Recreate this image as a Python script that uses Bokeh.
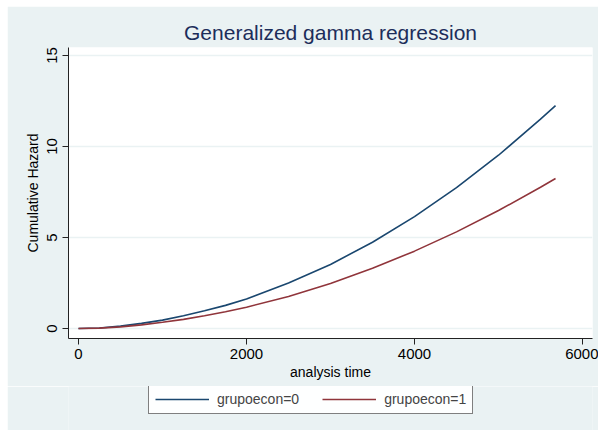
from bokeh.plotting import figure
from bokeh.models import Legend, LegendItem, FixedTicker, Range1d, Spacer
from bokeh.layouts import column, row
from bokeh.embed import file_html
from bokeh.resources import INLINE

# analysis time points and cumulative hazard
t = [0, 250, 500, 750, 1000, 1250, 1500, 1750, 2000, 2500, 3000, 3500, 4000, 4500, 5000, 5500, 5679]
haz_g0 = [0, 0.03, 0.13, 0.28, 0.46, 0.70, 0.97, 1.27, 1.62, 2.50, 3.52, 4.74, 6.15, 7.74, 9.52, 11.50, 12.25]
haz_g1 = [0, 0.02, 0.09, 0.20, 0.34, 0.50, 0.70, 0.92, 1.17, 1.76, 2.47, 3.31, 4.25, 5.31, 6.48, 7.76, 8.24]
labels = ["grupoecon=0", "grupoecon=1"]
colors = ["#1a476f", "#90353b"]
x_ticks = [0, 2000, 4000, 6000]
y_ticks = [0, 5, 10, 15]

BG = "#eaf2f3"
FONT = "Liberation Sans"

p = figure(width=591, height=380, output_backend="svg", toolbar_location=None,
           x_range=Range1d(-119, 6119), y_range=Range1d(-0.55, 15.44),
           min_border_left=61, min_border_right=6, min_border_top=41, min_border_bottom=48,
           title="Generalized gamma regression")
p.background_fill_color = "white"
p.border_fill_color = BG
p.outline_line_color = None

p.title.align = "center"
p.title.text_font = FONT
p.title.text_font_size = "21px"
p.title.text_font_style = "normal"
p.title.text_color = "#1c2d5a"
p.title.standoff = 7

p.line(t, haz_g0, line_color=colors[0], line_width=1.6)
p.line(t, haz_g1, line_color=colors[1], line_width=1.6)

p.xgrid.grid_line_color = None
p.ygrid.ticker = FixedTicker(ticks=y_ticks)
p.ygrid.grid_line_color = BG
p.ygrid.grid_line_width = 1.5

for ax in (p.xaxis[0], p.yaxis[0]):
    ax.major_label_text_font = FONT
    ax.major_label_text_font_size = "15px"
    ax.major_label_text_color = "black"
    ax.axis_label_text_font = FONT
    ax.axis_label_text_font_size = "14px"
    ax.axis_label_text_font_style = "normal"
    ax.axis_label_text_color = "black"
    ax.axis_line_color = "#222222"
    ax.major_tick_line_color = "#222222"
    ax.major_tick_out = 6
    ax.major_tick_in = 0
    ax.minor_tick_line_color = None

p.xaxis.ticker = FixedTicker(ticks=x_ticks)
p.yaxis.ticker = FixedTicker(ticks=y_ticks)
p.xaxis.axis_label = "analysis time"
p.yaxis.axis_label = "Cumulative Hazard"
p.yaxis.major_label_orientation = "vertical"
p.xaxis.axis_label_standoff = 2
p.yaxis.axis_label_standoff = 4
p.xaxis.major_label_standoff = 4
p.yaxis.major_label_standoff = 5

# legend strip below the chart
lg = figure(width=591, height=44, output_backend="svg", toolbar_location=None,
            x_range=Range1d(0, 1), y_range=Range1d(0, 1),
            x_axis_location=None, y_axis_location=None,
            min_border_left=0, min_border_right=0, min_border_top=0, min_border_bottom=0,
            outline_line_color=None)
lg.grid.visible = False
lg.background_fill_color = BG
lg.border_fill_color = BG
k0 = lg.line([5, 6], [5, 6], line_color=colors[0], line_width=1.6)
k1 = lg.line([5, 6], [5, 6], line_color=colors[1], line_width=1.6)

legend = Legend(items=[LegendItem(label=labels[0], renderers=[k0]),
                       LegendItem(label=labels[1], renderers=[k1])],
                orientation="horizontal", location=(80, 16))
legend.background_fill_color = "white"
legend.border_line_color = "black"
legend.border_line_width = 1
legend.label_text_font = FONT
legend.label_text_font_size = "14px"
legend.glyph_width = 54
legend.glyph_height = 16
legend.spacing = 23
legend.padding = 6
legend.margin = 0
legend.label_standoff = 8
lg.add_layout(legend, "center")

layout = column(Spacer(height=6), row(Spacer(width=7), column(p, lg, spacing=0), spacing=0), spacing=0)
open("out.html", "w").write(file_html(layout, INLINE))
